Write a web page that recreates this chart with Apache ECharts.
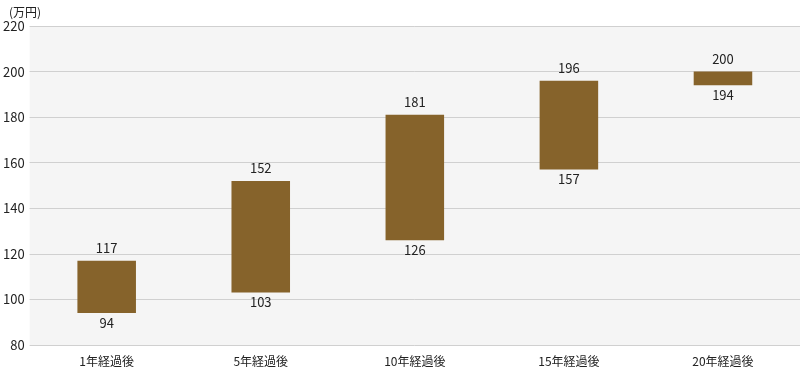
<!DOCTYPE html>
<html>
<head>
<meta charset="utf-8">
<script src="https://cdn.jsdelivr.net/npm/echarts@6/dist/echarts.min.js"></script>
<style>
  html, body { margin: 0; padding: 0; background: #fff; }
  #chart { width: 800px; height: 372px; }
</style>
</head>
<body>
<div id="chart"></div>
<script>
// 経過年数ごとの価格帯（万円）
var categories = ['1年経過後', '5年経過後', '10年経過後', '15年経過後', '20年経過後']
var lowValues = [94, 103, 126, 157, 194]
var highValues = [117, 152, 181, 196, 200]

var chart = echarts.init(document.getElementById('chart'))
var font = '"Noto Sans CJK JP", "Noto Sans", sans-serif'

chart.setOption({
  backgroundColor: '#fff',
  animation: false,
  textStyle: { fontFamily: font },
  title: {
    text: '(万円)',
    left: 4,
    top: 1,
    textStyle: { fontSize: 12, fontWeight: 'normal', color: '#222', fontFamily: font }
  },
  grid: {
    left: 28,
    right: 0,
    top: 26,
    bottom: 27,
    show: true,
    backgroundColor: '#f5f5f5',
    borderWidth: 0
  },
  xAxis: {
    type: 'category',
    data: categories,
    axisLine: { show: false },
    axisTick: { show: false },
    axisLabel: { color: '#222', fontSize: 12, margin: 10, fontFamily: font }
  },
  yAxis: {
    type: 'value',
    min: 80,
    max: 220,
    interval: 20,
    axisLine: { show: false },
    axisTick: { show: false },
    axisLabel: { color: '#222', fontSize: 13, margin: 5, fontFamily: font },
    splitLine: { lineStyle: { color: '#d0d0d0', width: 1 } }
  },
  series: [
    {
      name: 'base',
      type: 'bar',
      stack: 'range',
      barWidth: '38%',
      barCategoryGap: '0%',
      silent: true,
      itemStyle: { color: 'transparent' },
      label: {
        show: true,
        position: 'insideTop',
        distance: 3,
        color: '#222',
        fontSize: 13,
        fontFamily: font
      },
      data: lowValues
    },
    {
      name: 'range',
      type: 'bar',
      stack: 'range',
      barWidth: '38%',
      itemStyle: { color: '#86632b' },
      label: {
        show: true,
        position: 'top',
        distance: 6,
        color: '#222',
        fontSize: 13,
        fontFamily: font,
        formatter: function (p) { return highValues[p.dataIndex] }
      },
      data: highValues.map(function (v, i) { return v - lowValues[i] })
    }
  ]
})
</script>
</body>
</html>
